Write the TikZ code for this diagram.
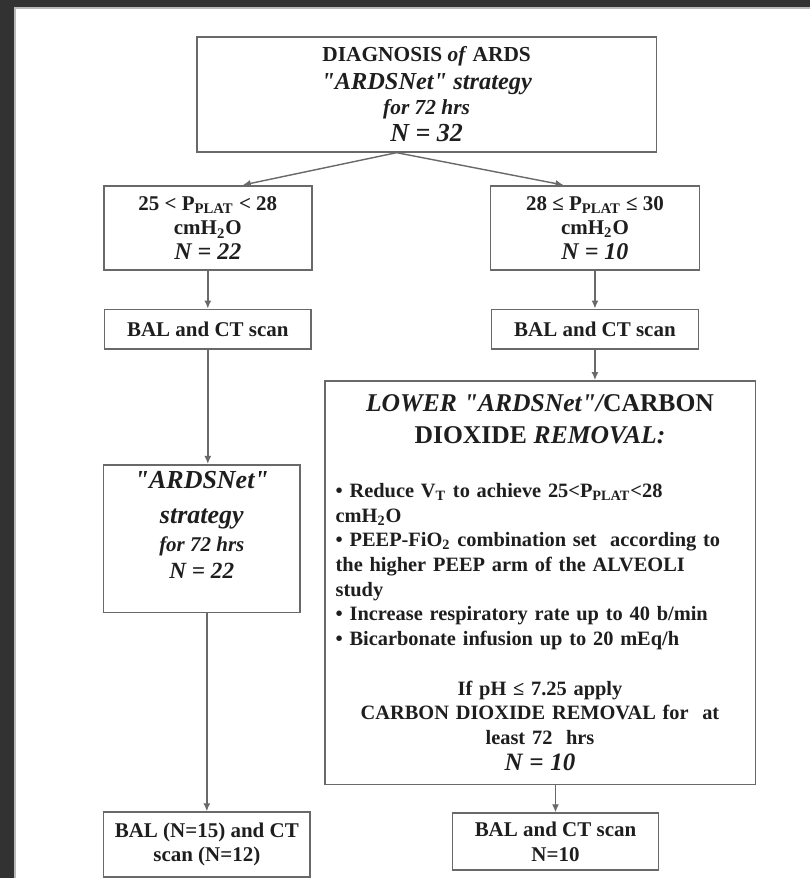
\documentclass[tikz,border=0pt]{standalone}
\usepackage{fontspec}
\setmainfont{Liberation Serif}[Ligatures=TeXOff]
\usepackage{tikz}
\usetikzlibrary{arrows.meta,positioning}
\definecolor{framegray}{RGB}{50,50,50}
\definecolor{linegray}{RGB}{105,105,105}
\definecolor{inkgray}{RGB}{30,30,30}

\begin{document}
\begin{tikzpicture}[x=0.5pt, y=-0.5pt, >={Latex[length=4pt,width=3.5pt]},
    box/.style={draw=linegray, line width=0.8pt, fill=white, text=inkgray, align=center, inner sep=0pt,
      font=\fontsize{10.5}{12.3}\selectfont\bfseries},
    link/.style={->, draw=linegray, line width=0.7pt}]
      % page on a dark frame
      \fill[framegray] (0,0) rectangle (811,879);
      \fill[white] (15,8) rectangle (811,879);
      \draw[gray!55, line width=0.8pt] (15,879) -- (15,8) -- (811,8);
      \useasboundingbox (0,0) rectangle (811,879);

      \node[box, minimum width=230pt, minimum height=57.5pt] (diag) at (427,94.5)
        {{\fontsize{10.7}{12.3}\selectfont DIAGNOSIS \textit{of} ARDS}\\[1.7pt]
         {\fontsize{12.2}{14}\selectfont\itshape "ARDSNet" strategy}\\[0.2pt]
         {\fontsize{10.7}{12.3}\selectfont\itshape for 72 hrs}\\[1.2pt]
         {\fontsize{13}{14}\selectfont\itshape N = 32}};
      \coordinate (fork) at ([xshift=-15pt]diag.south);

      \node[box, minimum width=104pt, minimum height=42pt] (left1) at (208,228)
        {25 < P\textsubscript{PLAT} < 28\\ cmH\textsubscript{2}O\\ {\fontsize{12}{12.3}\selectfont\itshape N = 22}};
      \node[box, minimum width=104.5pt, minimum height=42pt] (right1) at (595.5,228)
        {28 ≤ P\textsubscript{PLAT} ≤ 30\\ cmH\textsubscript{2}O\\ {\fontsize{12}{12.3}\selectfont\itshape N = 10}};

      \node[box, below=19pt of left1, minimum width=103.5pt, minimum height=20pt] (leftbal) {BAL and CT scan};
      \node[box, below=19pt of right1, minimum width=103.5pt, minimum height=20pt] (rightbal) {BAL and CT scan};

      \node[box, below=57pt of leftbal, xshift=-3pt, minimum width=98.5pt, minimum height=74pt] (leftstrat)
        {{\fontsize{13}{14}\selectfont\itshape "ARDSNet"}\\[5.2pt]
         {\fontsize{13}{14}\selectfont\itshape strategy}\\[1.7pt]
         {\fontsize{10.5}{12.3}\selectfont\itshape for 72 hrs}\\[1.2pt]
         {\fontsize{11.6}{12.3}\selectfont\itshape N = 22}\rule[-14pt]{0pt}{0pt}};

      \node[box, below=15pt of rightbal, xshift=-27.5pt, minimum width=215.5pt, minimum height=202pt,
        inner xsep=5.5pt, text width=204.5pt, align=left, font=\fontsize{10.2}{12.3}\selectfont\bfseries] (lower)
        {{\centering\fontsize{12.8}{16}\selectfont\itshape LOWER "ARDSNet"/\upshape CARBON\\
          DIOXIDE \itshape REMOVAL:\par}
         \vspace{15pt}
         • Reduce V\textsubscript{T} to achieve 25<P\textsubscript{PLAT}<28\\
         cmH\textsubscript{2}O\\
         • PEEP-FiO\textsubscript{2} combination set\ \ according to\\
         the higher PEEP arm of the ALVEOLI\\
         study\\
         • Increase respiratory rate up to 40 b/min\\
         • Bicarbonate infusion up to 20 mEq/h\par
         \vspace{12.7pt}
         {\centering If pH ≤ 7.25 apply\\
          CARBON DIOXIDE REMOVAL for\ \ at\\
          least 72\ \ hrs\\[1pt]
          {\fontsize{12.5}{12.3}\selectfont\itshape N = 10}\par}};

      \node[box, below=99pt of leftstrat, xshift=2.5pt, minimum width=103.5pt, minimum height=32.5pt] (leftfinal)
        {BAL (N=15) and CT\\ scan (N=12)};
      \node[box, below=13.5pt of lower, xshift=7.75pt, minimum width=103pt, minimum height=28.5pt] (rightfinal)
        {BAL and CT scan\\ N=10};

      \draw[link] (fork) -- ([xshift=17.5pt]left1.north);
      \draw[link] (fork) -- ([xshift=-15.75pt]right1.north);
      \draw[link] (left1.south) -- (left1.south |- leftbal.north);
      \draw[link] (right1.south) -- (right1.south |- rightbal.north);
      \draw[link] (rightbal.south) -- (rightbal.south |- lower.north);
      \draw[link] (leftbal.south) -- (leftbal.south |- leftstrat.north);
      \draw[link] (leftfinal.north |- leftstrat.south) -- (leftfinal.north);
      \draw[link] (rightfinal.north |- lower.south) -- (rightfinal.north);
    \end{tikzpicture}
\end{document}
